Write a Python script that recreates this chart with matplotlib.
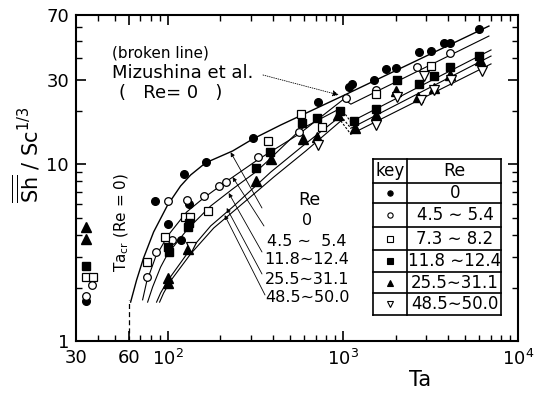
import matplotlib
matplotlib.use("Agg")
import matplotlib.pyplot as plt
from matplotlib.ticker import NullFormatter, FixedLocator, FixedFormatter
from matplotlib.lines import Line2D

# ---- measured points: Ta vs Sh/Sc^(1/3) ----
RE0_TA = [34.4, 84.3, 100, 118.6, 131.8, 123.4, 164.9, 306, 719.5, 1081, 1125,
          1503, 1762, 2009, 2717, 3184, 3776, 4085, 5984]
RE0_SH = [1.68, 6.20, 4.59, 3.73, 5.96, 8.81, 10.3, 14.1, 22.5, 27.4, 28.5,
          30.0, 34.6, 35.1, 43.2, 43.8, 48.6, 48.6, 58.3]

RE45_TA = [34.4, 36.8, 75.9, 85.4, 105.4, 100, 128.4, 160.6, 195.6, 214.4,
           326.6, 560.7, 1040, 1545, 2648, 4085]
RE45_SH = [1.80, 2.07, 2.30, 3.19, 3.73, 6.20, 6.28, 6.62, 7.54, 7.94,
           11.0, 15.2, 23.7, 26.3, 35.5, 42.7]

RE73_TA = [34.0, 37.3, 75.9, 96.1, 125, 133.6, 169.3, 372.7, 575.4, 758.6,
           1545, 3184]
RE73_SH = [2.30, 2.30, 2.80, 3.88, 5.03, 5.03, 5.44, 13.5, 19.3, 16.3,
           25.0, 36.0]

RE118_TA = [34.4, 100, 101.3, 130.1, 131.8, 318, 382.7, 583.4, 709.9, 961.2,
            1155, 1545, 2036, 2717, 3313, 4085, 5984]
RE118_SH = [2.66, 3.40, 3.19, 4.42, 4.66, 9.53, 11.7, 17.1, 18.3, 20.0,
            17.6, 20.6, 30.0, 28.5, 31.6, 35.5, 41.0]

RE255_TA = [34.4, 34.4, 100, 100, 130.1, 318, 388, 590.4, 709.9, 935.5,
            1171, 1545, 2009, 2685, 3313, 4085, 6063]
RE255_SH = [4.42, 3.78, 2.27, 2.13, 3.32, 8.04, 10.7, 13.9, 14.3, 19.0,
            16.0, 19.0, 26.0, 24.0, 27.0, 32.0, 38.9]

RE485_TA = [135.3, 719.5, 1545, 2036, 2790, 2904, 3313, 4141, 6223]
RE485_SH = [3.40, 12.9, 16.7, 24.0, 23.1, 31.6, 26.3, 30.0, 33.7]

# ---- correlation curves ----
FIT0_TA = [61.5, 66.5, 72.9, 83.2, 100, 118.6, 135.3, 164.9, 235, 306, 442.6, 1000, 6823]
FIT0_SH = [1.66, 2.21, 2.95, 4.14, 5.88, 7.54, 8.70, 10.2, 11.9, 13.9, 16.7, 24.4, 60.6]

FIT45_TA = [72, 75.9, 85.4, 100, 128.4, 160.6, 214.4, 326.6, 560.7, 1013, 1111, 6823]
FIT45_SH = [1.71, 2.16, 2.99, 3.93, 5.37, 6.45, 7.94, 10.6, 14.8, 23.4, 21.9, 53.2]

FIT118_PRE_TA = [76.9, 82.1, 91.2, 100, 130.1, 176.1, 235, 318, 382.7, 575.4, 974.5]
FIT118_PRE_SH = [1.66, 2.02, 2.62, 3.11, 4.30, 5.81, 7.25, 9.04, 10.7, 15.8, 20.8]
FIT118_POST_TA = [1111, 7014]
FIT118_POST_SH = [17.4, 44.4]

FIT255_PRE_TA = [86.5, 91.2, 100, 130.1, 176.1, 235, 318, 388, 590.4, 974.5]
FIT255_PRE_SH = [1.66, 1.87, 2.19, 3.15, 4.48, 5.73, 7.54, 9.04, 12.7, 18.8]
FIT255_POST_TA = [1111, 7014]
FIT255_POST_SH = [16.0, 41.0]

FIT485_PRE_TA = [90, 94.9, 104, 135.3, 183.3, 235, 331, 403.4, 614.8, 974.5]
FIT485_PRE_SH = [1.66, 1.87, 2.19, 3.11, 4.36, 5.37, 7.16, 8.47, 11.9, 17.6]
FIT485_POST_TA = [1111, 7014]
FIT485_POST_SH = [14.8, 37.0]

TA_CR = 60
TA_CR_TOP = 1.71

# leader arrow tips on the curves (Ta, Sh)
ARROW_TIP_TA = [229, 235, 223.2, 217.3, 211.6]
ARROW_TIP_SH = [11.7, 8.47, 6.88, 5.66, 5.16]
MIZU_TIP = (948, 24.7)

CURVE_LABELS = ["0", "4.5 \u223c  5.4", "11.8\u223c12.4", "25.5\u223c31.1", "48.5\u223c50.0"]
KEY_LABELS = ["0", "4.5 \u223c 5.4", "7.3 \u223c 8.2", "11.8 \u223c12.4", "25.5\u223c31.1", "48.5\u223c50.0"]

X_TICKS = [30, 60, 100, 1000, 10000]
X_TICK_LABELS = ["30", "60", r"$10^2$", r"$10^3$", r"$10^4$"]
Y_TICKS = [1, 10, 30, 70]
Y_TICK_LABELS = ["1", "10", "30", "70"]

# axes box in pixels of the 535x395 image
AX_L, AX_R, AX_T, AX_B = 76, 518, 15, 341
W, H = 535, 395


def px(x, y):
    """pixel position -> axes fraction (for layout only)"""
    return (x - AX_L) / (AX_R - AX_L), (AX_B - y) / (AX_B - AX_T)


def main():
    plt.rcParams["font.family"] = ["DejaVu Sans"]
    plt.rcParams["mathtext.fontset"] = "dejavusans"

    fig = plt.figure(figsize=(W / 100, H / 100), dpi=100)
    ax = fig.add_axes([AX_L / W, 1 - AX_B / H, (AX_R - AX_L) / W, (AX_B - AX_T) / H])
    ax.set_xscale("log")
    ax.set_yscale("log")
    ax.set_xlim(30, 10000)
    ax.set_ylim(1, 70)

    lw = 0.8
    ax.plot(FIT0_TA, FIT0_SH, color="k", lw=1.0, zorder=2)
    ax.plot(FIT45_TA, FIT45_SH, color="k", lw=lw, zorder=2)
    for pre_x, pre_y, post_x, post_y in [
        (FIT118_PRE_TA, FIT118_PRE_SH, FIT118_POST_TA, FIT118_POST_SH),
        (FIT255_PRE_TA, FIT255_PRE_SH, FIT255_POST_TA, FIT255_POST_SH),
        (FIT485_PRE_TA, FIT485_PRE_SH, FIT485_POST_TA, FIT485_POST_SH),
    ]:
        ax.plot(pre_x, pre_y, color="k", lw=lw, zorder=2)
        ax.plot(post_x, post_y, color="k", lw=lw, zorder=2)
        ax.plot([pre_x[-1], post_x[0]], [pre_y[-1], post_y[0]],
                color="k", lw=lw, ls=(0, (2, 1.5)), zorder=2)

    ax.plot([TA_CR, TA_CR], [1, TA_CR_TOP], color="k", lw=0.9, ls=(0, (4, 2.5)))

    ms = 5.5
    ax.plot(RE0_TA, RE0_SH, "o", ms=ms, mfc="k", mec="k", ls="none", zorder=4)
    ax.plot(RE45_TA, RE45_SH, "o", ms=ms, mfc="white", mec="k", mew=0.9, ls="none", zorder=4)
    ax.plot(RE73_TA, RE73_SH, "s", ms=ms, mfc="white", mec="k", mew=0.9, ls="none", zorder=4)
    ax.plot(RE118_TA, RE118_SH, "s", ms=ms, mfc="k", mec="k", ls="none", zorder=4)
    ax.plot(RE255_TA, RE255_SH, "^", ms=6.5, mfc="k", mec="k", ls="none", zorder=4)
    ax.plot(RE485_TA, RE485_SH, "v", ms=6.5, mfc="white", mec="k", mew=0.9, ls="none", zorder=4)

    # axes and ticks
    for s in ax.spines.values():
        s.set_linewidth(1.5)
    ax.xaxis.set_major_locator(FixedLocator(X_TICKS))
    ax.xaxis.set_major_formatter(FixedFormatter(X_TICK_LABELS))
    ax.yaxis.set_major_locator(FixedLocator(Y_TICKS))
    ax.yaxis.set_major_formatter(FixedFormatter(Y_TICK_LABELS))
    ax.xaxis.set_minor_formatter(NullFormatter())
    ax.yaxis.set_minor_formatter(NullFormatter())
    ax.tick_params(which="both", direction="in", top=True, right=True, labelsize=13)
    ax.tick_params(which="major", length=7, width=1.2)
    ax.tick_params(which="minor", length=4, width=1.0)
    ax.tick_params(axis="x", which="major", pad=6)
    ax.tick_params(axis="y", which="major", pad=5)

    fig.text(27 / W, 1 - 155 / H,
             r"$\overline{\overline{\mathrm{Sh}}}\ /\ \mathrm{Sc}^{1/3}$",
             rotation=90, ha="center", va="center", fontsize=15)
    fig.text(420 / W, 1 - 380 / H, "Ta", ha="center", va="center", fontsize=15)

    # annotations
    ax.text(*px(112, 53), "(broken line)", transform=ax.transAxes,
            ha="left", va="center", fontsize=11)
    ax.text(*px(112, 73), "Mizushina et al.", transform=ax.transAxes,
            ha="left", va="center", fontsize=13)
    ax.text(*px(119, 93), "(   Re= 0   )", transform=ax.transAxes,
            ha="left", va="center", fontsize=13)
    ax.annotate("", xy=MIZU_TIP, xycoords="data",
                xytext=px(263, 75), textcoords="axes fraction",
                arrowprops=dict(arrowstyle="-|>", lw=0.6, ls=":", color="k",
                                mutation_scale=9, shrinkA=0, shrinkB=0))

    ax.text(*px(122, 222), r"$\mathrm{Ta_{cr}}$ (Re = 0)", transform=ax.transAxes,
            rotation=90, ha="center", va="center", fontsize=11)

    ax.text(*px(309, 200), "Re", transform=ax.transAxes, ha="center", va="center", fontsize=12.5)
    label_y = [220, 241, 260, 279, 298]
    starts = [(262, 208), (264, 226), (262, 252), (262, 274), (265, 295)]
    for lab, ly, st, tx, ty in zip(CURVE_LABELS, label_y, starts, ARROW_TIP_TA, ARROW_TIP_SH):
        ax.text(*px(307, ly), lab, transform=ax.transAxes,
                ha="center", va="center", fontsize=11.5)
        ax.annotate("", xy=(tx, ty), xycoords="data",
                    xytext=px(*st), textcoords="axes fraction",
                    arrowprops=dict(arrowstyle="-|>", lw=0.6, color="k",
                                    mutation_scale=6, shrinkA=0, shrinkB=0))

    # key table
    tl, tr, tt, tb, tc = 373, 501, 159, 315, 407
    row_lines = [183, 203, 227, 250, 272, 293]
    tkw = dict(transform=ax.transAxes, color="k", lw=1.2, clip_on=False)
    for (x0, y0), (x1, y1) in [((tl, tt), (tr, tt)), ((tl, tb), (tr, tb)),
                               ((tl, tt), (tl, tb)), ((tr, tt), (tr, tb)),
                               ((tc, tt), (tc, tb))]:
        a, b = px(x0, y0), px(x1, y1)
        ax.add_line(Line2D([a[0], b[0]], [a[1], b[1]], **tkw))
    for ry in row_lines:
        a, b = px(tl, ry), px(tr, ry)
        ax.add_line(Line2D([a[0], b[0]], [a[1], b[1]], **tkw))
    ax.text(*px(390, 171), "key", transform=ax.transAxes, ha="center", va="center", fontsize=12)
    ax.text(*px(454, 171), "Re", transform=ax.transAxes, ha="center", va="center", fontsize=12.5)
    key_styles = [("o", "k"), ("o", "white"), ("s", "white"),
                  ("s", "k"), ("^", "k"), ("v", "white")]
    edges = row_lines + [tb]
    for i, ((mk, fc), lab) in enumerate(zip(key_styles, KEY_LABELS)):
        cy = (edges[i] + edges[i + 1]) / 2
        mx, my = px(390, cy)
        ax.plot([mx], [my], mk, ms=4.5 if mk in "^v" else 3.8, mfc=fc, mec="k", mew=0.8,
                transform=ax.transAxes, clip_on=False)
        ax.text(*px(455, cy), lab, transform=ax.transAxes,
                ha="center", va="center", fontsize=12)

    fig.savefig("out.png", dpi=100)
    plt.close(fig)


if __name__ == "__main__":
    main()
